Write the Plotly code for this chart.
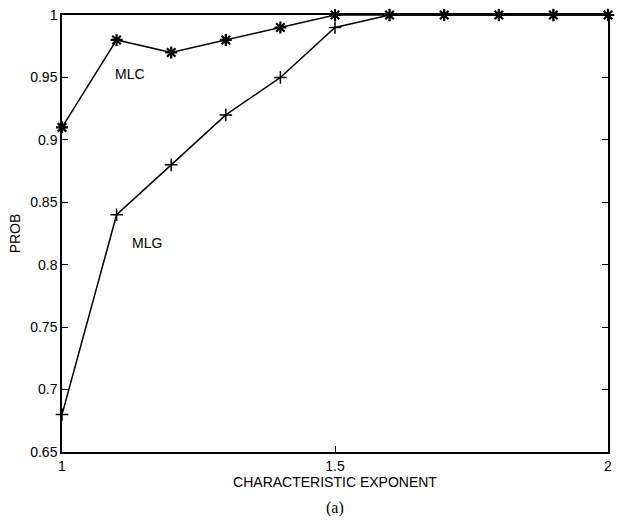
import plotly.graph_objects as go

alpha = [1.0, 1.1, 1.2, 1.3, 1.4, 1.5, 1.6, 1.7, 1.8, 1.9, 2.0]
mlc = [0.91, 0.98, 0.97, 0.98, 0.99, 1.0, 1.0, 1.0, 1.0, 1.0, 1.0]
mlg = [0.68, 0.84, 0.88, 0.92, 0.95, 0.99, 1.0, 1.0, 1.0, 1.0, 1.0]
y_ticks = [0.65, 0.7, 0.75, 0.8, 0.85, 0.9, 0.95, 1.0]
y_tick_text = ["0.65", "0.7", "0.75", "0.8", "0.85", "0.9", "0.95", "1"]
x_ticks = [1, 1.5, 2]
x_tick_text = ["1", "1.5", "2"]

FONT = "Liberation Sans, Arial, sans-serif"

fig = go.Figure()
fig.add_trace(go.Scatter(x=alpha, y=mlc, mode="lines+markers",
                         line=dict(color="black", width=1.5),
                         marker=dict(symbol="asterisk-open", size=10,
                                     line=dict(color="black", width=2.2)),
                         cliponaxis=False, showlegend=False))
fig.add_trace(go.Scatter(x=alpha, y=mlg, mode="lines+markers",
                         line=dict(color="black", width=1.5),
                         marker=dict(symbol="cross-thin-open", size=9,
                                     line=dict(color="black", width=1.5)),
                         cliponaxis=False, showlegend=False))

fig.add_annotation(x=1.124, y=0.953, text="MLC", showarrow=False,
                   font=dict(family=FONT, size=14, color="black"))
fig.add_annotation(x=1.155, y=0.817, text="MLG", showarrow=False,
                   font=dict(family=FONT, size=14, color="black"))
fig.add_annotation(x=0.5, y=-0.128, xref="paper", yref="paper", text="(a)",
                   showarrow=False, yanchor="middle",
                   font=dict(family="Liberation Serif, Times New Roman, serif", size=16, color="black"))

fig.update_layout(
    width=619, height=523,
    margin=dict(l=62, r=7, t=13, b=71),
    paper_bgcolor="white", plot_bgcolor="white",
    font=dict(family=FONT, size=14, color="black"),
    xaxis=dict(range=[1, 2], tickvals=x_ticks, ticktext=x_tick_text,
               ticks="inside", ticklen=6, tickcolor="black", mirror="ticks",
               showline=True, linecolor="black", linewidth=1.5, showgrid=False,
               zeroline=False, tickfont=dict(size=14),
               title=dict(text="CHARACTERISTIC EXPONENT", standoff=0, font=dict(size=14))),
    yaxis=dict(range=[0.65, 1.0], tickvals=y_ticks, ticktext=y_tick_text,
               ticks="inside", ticklen=6, tickcolor="black", mirror="ticks",
               showline=True, linecolor="black", linewidth=1.5, showgrid=False,
               zeroline=False, tickfont=dict(size=14),
               title=dict(text="PROB", standoff=6, font=dict(size=14))),
)

fig.write_html("out.html")
